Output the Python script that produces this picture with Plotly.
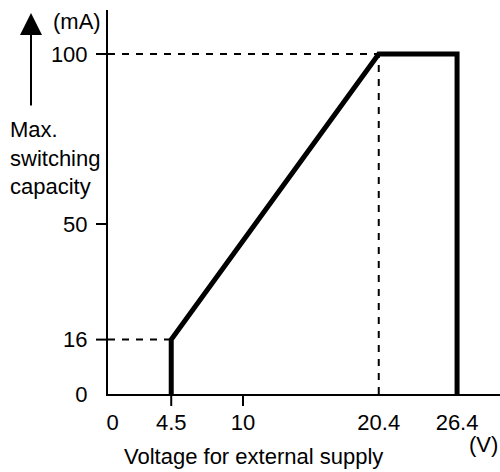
import plotly.graph_objects as go

# data
volt = [4.5, 4.5, 20.4, 26.4, 26.4]
current = [0, 16, 100, 100, 0]

x_ticks = [0, 4.5, 10, 20.4, 26.4]
x_ticklabels = ["0", "4.5", "10", "20.4", "26.4"]
x_marks = [4.5, 10]

y_ticks = [0, 16, 50, 100]
y_ticklabels = ["0", "16", "50", "100"]
y_marks = [16, 50, 100]

W, H = 500, 472
L, T, B = 108, 10, 78
PW, PH = W - L, H - T - B
XR = [-0.345, 29.69]
YR = [0, PH / 3.4]

FONT = dict(family="Liberation Sans, Arial, sans-serif", size=22, color="black")


def px(x):
    return (x - L) / PW


def py(y):
    return (T + PH - y) / PH


fig = go.Figure()

# guide lines (dashed)
guides = [
    ([XR[0], volt[2]], [current[2], current[2]]),
    ([volt[2], volt[2]], [0, current[2]]),
    ([XR[0], volt[1]], [current[1], current[1]]),
]
for gx, gy in guides:
    fig.add_trace(go.Scatter(
        x=gx, y=gy, mode="lines",
        line=dict(color="black", width=2, dash="7px,7px"),
        hoverinfo="skip", showlegend=False,
    ))

# switching capacity curve
fig.add_trace(go.Scatter(
    x=volt, y=current, mode="lines",
    line=dict(color="black", width=5),
    showlegend=False,
))

# tick marks (only where the reference draws them)
for v in y_marks:
    fig.add_shape(type="line", xref="paper", yref="y",
                  x0=-12 / PW, x1=0, y0=v, y1=v,
                  line=dict(color="black", width=2))
for v in x_marks:
    fig.add_shape(type="line", xref="x", yref="paper",
                  x0=v, x1=v, y0=0, y1=-12 / PH,
                  line=dict(color="black", width=2))

# y-axis direction arrow
fig.add_annotation(xref="paper", yref="paper", x=px(31), y=py(13),
                   ax=0, ay=94, text="", showarrow=True,
                   arrowhead=2, arrowsize=2.2, arrowwidth=2,
                   arrowcolor="black", standoff=0)

fig.add_annotation(xref="paper", yref="paper", x=px(77), y=py(21),
                   text="(mA)", showarrow=False, font=FONT,
                   xanchor="center", yanchor="middle")
fig.add_annotation(xref="paper", yref="paper", x=px(8), y=py(158),
                   text="Max.<br>switching<br>capacity", showarrow=False,
                   font=FONT, align="left", xanchor="left", yanchor="middle")
fig.add_annotation(xref="paper", yref="paper", x=px(483), y=py(444),
                   text="(V)", showarrow=False, font=FONT,
                   xanchor="center", yanchor="middle")
fig.add_annotation(xref="paper", yref="paper", x=px(253), y=py(456),
                   text="Voltage for external supply", showarrow=False,
                   font=FONT, xanchor="center", yanchor="middle")

fig.update_layout(
    width=W, height=H,
    margin=dict(l=L, r=0, t=T, b=B),
    paper_bgcolor="white", plot_bgcolor="white",
    font=FONT,
    xaxis=dict(range=XR, showgrid=False, zeroline=False,
               showline=True, linecolor="black", linewidth=2,
               tickvals=x_ticks, ticktext=x_ticklabels, ticks="",
               ticklabelstandoff=8, tickfont=FONT, fixedrange=True),
    yaxis=dict(range=YR, showgrid=False, zeroline=False,
               showline=True, linecolor="black", linewidth=2,
               tickvals=y_ticks, ticktext=y_ticklabels, ticks="",
               ticklabelstandoff=14, tickfont=FONT, fixedrange=True),
)

# drop the default body margin so the figure sits at the page corner
fig.write_html("out.html", config={"displayModeBar": False},
               post_script="document.body.style.margin='0';")
